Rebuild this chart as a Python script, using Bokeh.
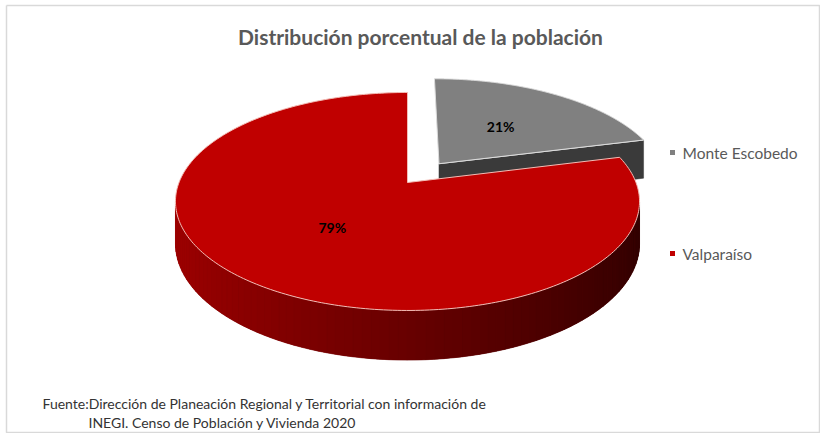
import numpy as np
from bokeh.plotting import figure
from bokeh.models import Range1d
from bokeh.core.properties import value
from bokeh.embed import file_html
from bokeh.resources import INLINE

# ---------------- data ----------------
title_text = "Distribución porcentual de la población"
categories = ["Monte Escobedo", "Valparaíso"]
percent = [21, 79]
slice_labels = ["21%", "79%"]
exploded = [True, False]
source_lines = [
    "Fuente:Dirección de Planeación Regional y Territorial con información de",
    "INEGI. Censo de Población y Vivienda 2020",
]

# ---------------- style ----------------
top_colors = [(128, 128, 128), (192, 0, 0)]
FONT = "Lato"
CX, CY = 407.0, 182.0            # projected centre of the pie (px)
A, B, K = 228.5, 105.7, 0.174    # ellipse scale and perspective factor
D = 41.0                         # depth of the pie
EXPLODE = 0.232
LABEL_R = 0.5


def proj(u, v, depth=0.0):
    u = np.asarray(u, dtype=float)
    v = np.asarray(v, dtype=float)
    w = 1.0 + K * v
    return CX + A * u / w, CY - B * v / w + depth * D / w


def hexc(rgb, f=1.0):
    r, g, b = [int(max(0, min(255, round(c * f)))) for c in rgb]
    return "#%02x%02x%02x" % (r, g, b)


p = figure(width=820, height=433, output_backend="svg", toolbar_location=None,
           x_range=Range1d(0, 820), y_range=Range1d(433, 0), min_border=0)
p.axis.visible = False
p.grid.visible = False
p.outline_line_color = None
p.background_fill_color = "white"

# frame
p.line([6, 819, 819, 6, 6], [5, 5, 432, 432, 5], line_color="#d9d9d9", line_width=1.5)

total = float(sum(percent))
fr = np.array(percent) / total
ends = np.cumsum(fr) * 2 * np.pi
starts = ends - fr * 2 * np.pi
mids = (starts + ends) / 2

order = np.argsort(-np.cos(mids))  # back slices first
label_pos = {}
for i in order:
    t0, t1, tm = starts[i], ends[i], mids[i]
    off = EXPLODE if exploded[i] else 0.0
    ou, ov = off * np.sin(tm), off * np.cos(tm)
    col = top_colors[i]

    # cut faces facing the viewer
    for ang, nrm in ((t0, t0 - np.pi / 2), (t1, t1 + np.pi / 2)):
        if np.cos(nrm) < -0.05:
            cu, cv = ou + np.sin(ang), ov + np.cos(ang)
            x0, y0 = proj(ou, ov, 0)
            x1, y1 = proj(cu, cv, 0)
            x2, y2 = proj(cu, cv, 1)
            x3, y3 = proj(ou, ov, 1)
            p.patch([x0, x1, x2, x3], [y0, y1, y2, y3], fill_color=hexc(col, 0.45),
                    line_color=hexc(col, 0.45), line_width=0.5)
            p.line([x0, x1], [y0, y1], line_color="#e6e6e6", line_width=1)

    # outer wall (front part only), drawn as shaded strips over a base
    ts = np.linspace(t0, t1, 600)
    vis = np.cos(ts) < -K
    if vis.any():
        tv = ts[vis]
        uu = ou + np.sin(tv)
        vv = ov + np.cos(tv)
        xt, yt = proj(uu, vv, 0)
        xb, yb = proj(uu, vv, 1)
        p.patch(np.concatenate([xt, xb[::-1]]), np.concatenate([yt, yb[::-1]]),
                fill_color=hexc(col, 0.55), line_color=None)
        xs_l, ys_l, cs = [], [], []
        step = 4
        for j in range(0, len(tv) - 1, step):
            k2 = min(j + step, len(tv) - 1)
            xs_l.append([float(xt[j]), float(xt[k2]), float(xb[k2]), float(xb[j])])
            ys_l.append([float(yt[j]), float(yt[k2]), float(yb[k2]), float(yb[j])])
            um = np.sin((tv[j] + tv[k2]) / 2)
            f = 0.83 - 0.58 * (um + 1) / 2
            cs.append(hexc(col, f))
        p.patches(xs_l, ys_l, fill_color=cs, line_color=cs, line_width=0.6)

    # top face
    ta = np.linspace(t0, t1, 300)
    uu = np.concatenate([[ou], ou + np.sin(ta), [ou]])
    vv = np.concatenate([[ov], ov + np.cos(ta), [ov]])
    tx, ty = proj(uu, vv, 0)
    edge = "#f2bdb6" if i == 1 else "#dcdcdc"
    p.patch(tx, ty, fill_color=hexc(col), line_color=edge, line_width=1)

    lx, ly = proj(ou + LABEL_R * np.sin(tm), ov + LABEL_R * np.cos(tm), 0)
    label_pos[i] = (float(lx), float(ly))

# data labels
p.text(x=[label_pos[i][0] for i in range(len(percent))],
       y=[label_pos[i][1] for i in range(len(percent))],
       text=slice_labels, text_font=value(FONT), text_font_style="bold",
       text_font_size="14px", text_color="#000000",
       text_align="center", text_baseline="middle")

# title
p.text(x=[420], y=[36], text=[title_text], text_font=value(FONT),
       text_font_style="bold", text_font_size="21px", text_color="#595959",
       text_align="center", text_baseline="middle")

# legend
leg_y = [152, 253]
p.scatter(x=[672] * len(categories), y=leg_y, marker="square", size=5,
          fill_color=[hexc(c) for c in top_colors], line_color=None)
p.text(x=[682] * len(categories), y=leg_y, text=categories, text_font=value(FONT),
       text_font_size="15.5px", text_color="#595959", text_align="left",
       text_baseline="middle")

# source note
p.text(x=[42, 88], y=[403, 422], text=source_lines, text_font=value(FONT),
       text_font_size="14px", text_color="#333333", text_align="left",
       text_baseline="middle")

open("out.html", "w").write(file_html(p, INLINE))
